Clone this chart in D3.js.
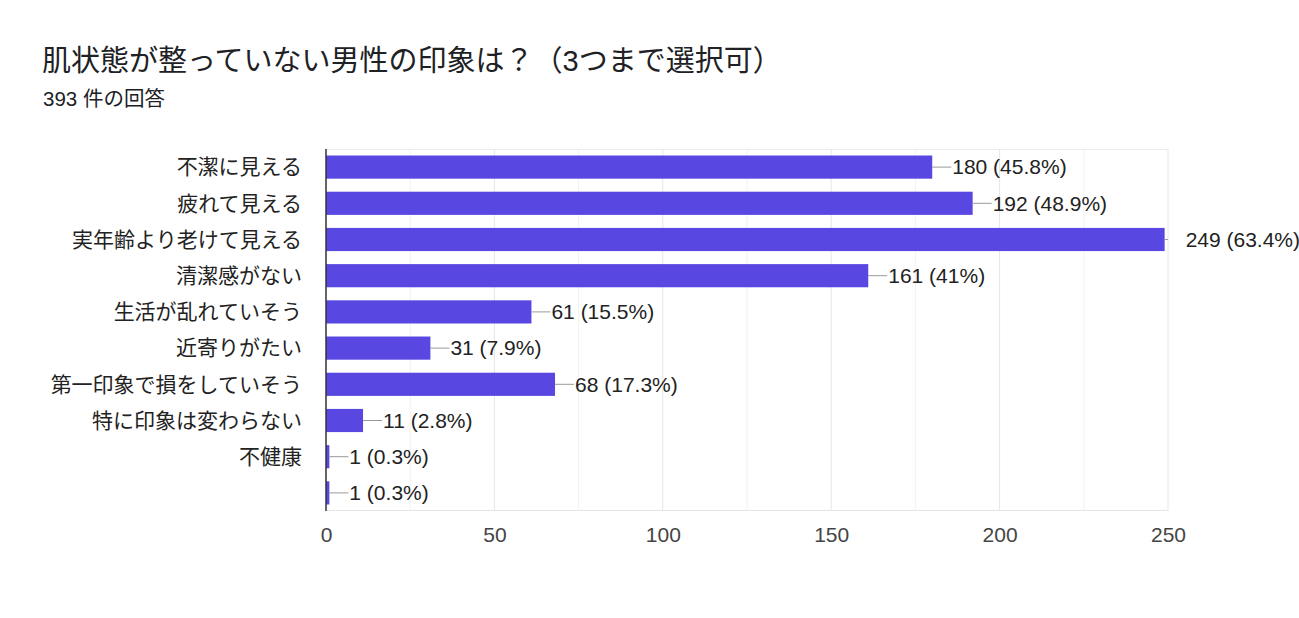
<!DOCTYPE html>
<html lang="ja">
<head>
<meta charset="UTF-8">
<title>肌状態が整っていない男性の印象</title>
<script src="https://cdn.jsdelivr.net/npm/d3@7"></script>
<style>
    body{
        margin:0;
        background:#fff;
        font-family:"Liberation Sans", Arial, "Noto Sans CJK JP", sans-serif;
    }
    .title{ font-size:29px; fill:#202124; }
    .sub{ font-size:20.5px; fill:#202124; }
    .cat{ font-size:21px; fill:#222; }
    .val{ font-size:21px; fill:#222; }
</style>
</head>
<body>
<script>
    // データ
    var categories = ['不潔に見える','疲れて見える','実年齢より老けて見える','清潔感がない','生活が乱れていそう',
                      '近寄りがたい','第一印象で損をしていそう','特に印象は変わらない','不健康',''];
    var counts = [180,192,249,161,61,31,68,11,1,1];
    var percents = ['45.8%','48.9%','63.4%','41%','15.5%','7.9%','17.3%','2.8%','0.3%','0.3%'];
    var xTicks = [0,50,100,150,200,250];
    var total = 393;

    var width = 1299, height = 618;
    var margin = {left:326, right:131, top:149, bottom:107};
    var pw = width - margin.left - margin.right,
        ph = height - margin.top - margin.bottom;

    var rows = categories.map(function(c,i){ return {key:i, name:c, n:counts[i], p:percents[i]}; });

    var svg = d3.select('body').append('svg')
        .attr('width',width).attr('height',height);

    svg.append('text').attr('class','title').attr('x',42).attr('y',71)
        .text('肌状態が整っていない男性の印象は？（3つまで選択可）');
    svg.append('text').attr('class','sub').attr('x',43).attr('y',106)
        .text(total + ' 件の回答');

    var x = d3.scaleLinear().domain([0,250]).range([0,pw]);
    var y = d3.scaleBand().domain(rows.map(function(d){return d.key;}))
        .range([0,ph]).paddingInner(0.36).paddingOuter(0.18);

    var g = svg.append('g').attr('transform','translate('+margin.left+','+margin.top+')');

    // グリッド
    g.selectAll('.minor').data(d3.range(25,250,50)).enter().append('line')
        .attr('x1',x).attr('x2',x).attr('y1',0).attr('y2',ph)
        .attr('stroke','#f2f2f2');
    g.selectAll('.major').data(xTicks.slice(1)).enter().append('line')
        .attr('x1',x).attr('x2',x).attr('y1',0).attr('y2',ph)
        .attr('stroke','#e6e6e6');
    g.append('line').attr('x1',0).attr('x2',pw).attr('y1',0.5).attr('y2',0.5).attr('stroke','#ececec');
    g.append('line').attr('x1',0).attr('x2',pw).attr('y1',ph-0.5).attr('y2',ph-0.5).attr('stroke','#e6e6e6');

    // 棒
    g.selectAll('.bar').data(rows).enter().append('rect')
        .attr('x',0).attr('y',function(d){return y(d.key);})
        .attr('width',function(d){return x(d.n);})
        .attr('height',y.bandwidth())
        .attr('fill','#5847e0');

    // 引き出し線と値ラベル
    g.selectAll('.lead').data(rows).enter().append('line')
        .attr('x1',function(d){return x(d.n);})
        .attr('x2',function(d){return Math.min(x(d.n)+19, pw);})
        .attr('y1',function(d){return y(d.key)+y.bandwidth()/2;})
        .attr('y2',function(d){return y(d.key)+y.bandwidth()/2;})
        .attr('stroke','#999').attr('stroke-width',1);
    g.selectAll('.val').data(rows).enter().append('text')
        .attr('class','val')
        .attr('x',function(d){return x(d.n)+ (x(d.n)+19 > pw ? 21 : 20);})
        .attr('y',function(d){return y(d.key)+y.bandwidth()/2;})
        .attr('dy','0.35em')
        .text(function(d){return d.n + ' (' + d.p + ')';});

    // カテゴリラベル
    g.selectAll('.cat').data(rows).enter().append('text')
        .attr('class','cat')
        .attr('x',-24)
        .attr('y',function(d){return y(d.key)+y.bandwidth()/2;})
        .attr('dy','0.35em')
        .attr('text-anchor','end')
        .text(function(d){return d.name;});

    // 軸
    var ax = g.append('g').attr('transform','translate(0,'+ph+')')
        .call(d3.axisBottom(x).tickValues(xTicks).tickSize(0).tickPadding(16));
    ax.select('.domain').remove();
    ax.selectAll('text').attr('fill','#444').style('font-size','21px')
        .style('font-family','"Liberation Sans", Arial, sans-serif');

    g.append('line').attr('x1',0).attr('x2',0).attr('y1',0).attr('y2',ph)
        .attr('stroke','#333').attr('stroke-width',1.5);
</script>
</body>
</html>
